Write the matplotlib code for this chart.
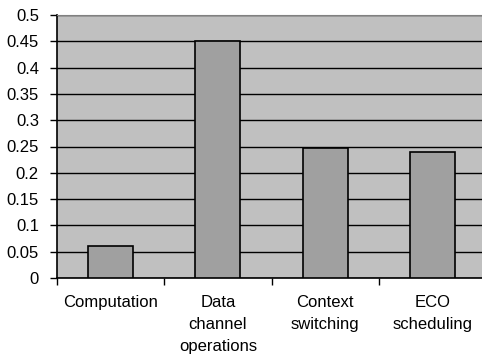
import matplotlib.pyplot as plt
import numpy as np

categories = ['Computation', 'Data\nchannel\noperations', 'Context\nswitching', 'ECO\nscheduling']
values = [0.06, 0.45, 0.248, 0.24]
yticks = [0, 0.05, 0.1, 0.15, 0.2, 0.25, 0.3, 0.35, 0.4, 0.45, 0.5]

plt.rcParams['font.family'] = ['Liberation Sans', 'DejaVu Sans']

fig = plt.figure(figsize=(4.82, 3.56), dpi=100)
ax = fig.add_axes([57 / 482, 1 - 278 / 356, 429 / 482, 263 / 356])
ax.set_facecolor('#C0C0C0')

x = np.arange(len(categories))
ax.bar(x, values, width=0.42, color='#A0A0A0', edgecolor='black', linewidth=1.2, zorder=3)

ax.set_xlim(-0.5, len(categories) - 0.5)
ax.set_ylim(0, 0.5)
ax.set_yticks(yticks)
ax.set_yticklabels([('%g' % v) for v in yticks], fontsize=12)
ax.yaxis.grid(True, color='black', linewidth=1.0, zorder=1)

# category labels between boundary ticks
ax.set_xticks(x)
ax.set_xticklabels(categories, fontsize=12, linespacing=1.6, va='top')
ax.tick_params(axis='x', length=0, pad=12)
ax.set_xticks(np.arange(len(categories)) - 0.5, minor=True)
ax.tick_params(axis='x', which='minor', length=5, width=1, direction='out')
ax.tick_params(axis='y', length=5, width=1, direction='out', pad=8)

for s in ['left', 'bottom']:
    ax.spines[s].set_color('black')
    ax.spines[s].set_linewidth(1.2)
ax.spines['top'].set_color('#808080')
ax.spines['right'].set_visible(False)

fig.savefig('out.png', dpi=100)
